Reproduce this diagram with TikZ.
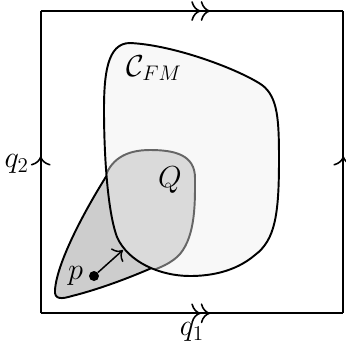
\documentclass[tikz,border=0pt]{standalone}
\usepackage{amsmath,amssymb}
\usetikzlibrary{arrows.meta,decorations.markings,positioning}
\definecolor{ink}{HTML}{000000}
\definecolor{cfmfill}{HTML}{F8F8F8}
\definecolor{qfill}{HTML}{DADADA}
\definecolor{setfill}{HTML}{CDCDCD}
\definecolor{qline}{HTML}{666666}
\tikzset{
  edge/.style={draw=ink, line width=1.1pt},
  singlemark/.style={edge, postaction={decorate}, decoration={markings, mark=at position 0.52 with {\arrow[line width=0.9pt]{To[scale=1.5]}}}},
  doublemark/.style={edge, postaction={decorate}, decoration={markings, mark=at position 0.56 with {\arrow[line width=0.9pt]{To[scale=1.5]To[scale=1.5]}}}},
  blob/.style={draw=ink, line width=1.1pt},
  qblob/.style={draw=qline, line width=1.1pt},
  label/.style={font=\LARGE, text=ink, inner sep=1pt},
  dot/.style={circle, fill=ink, inner sep=0pt, minimum size=2mm},
  arrow/.style={-{To[scale=1.4]}, draw=ink, line width=0.85pt}
}
\newcommand\cfmshape{(104,110) .. controls (104,75) and (107,43) .. (130,43) .. controls (175,45) and (240,70) .. (262,85) .. controls (278,97) and (279,120) .. (279,160) .. controls (279,215) and (275,240) .. (255,255) .. controls (235,272) and (210,276) .. (190,276) .. controls (160,276) and (128,262) .. (117,237) .. controls (107,210) and (104,150) .. (104,110) -- cycle}
\newcommand\qedge{(104,180) .. controls (110,160) and (125,150) .. (150,150) .. controls (175,150) and (195,155) .. (195,178) .. controls (195,200) and (196,235) .. (180,254) .. controls (172,263) and (160,268) .. (145,273)}

\begin{document}
\begin{tikzpicture}[x=0.02cm, y=-0.02cm]
\useasboundingbox (0,0) rectangle (346,343);
% torus square, opposite sides glued
\coordinate (sw) at (40.7,313.3);
\coordinate (se) at (343.3,313.3);
\coordinate (nw) at (40.7,11);
\coordinate (ne) at (343.3,11);
\draw[doublemark] (sw) -- (se);
\draw[doublemark] (nw) -- (ne);
\draw[singlemark] (sw) -- (nw);
\draw[singlemark] (se) -- (ne);
\node[label] (qone) at (192,332) {$q_1$};
\node[label, anchor=east] (qtwo) at (31,164) {$q_2$};
% sets
\filldraw[blob, fill=setfill] (118,158) .. controls (90,200) and (57,260) .. (55,290) .. controls (54,300) and (62,299) .. (72,296) .. controls (100,289) and (135,276) .. (165,262) -- (150,160) -- cycle;
\fill[cfmfill] \cfmshape;
\begin{scope}
\clip \cfmshape;
\fill[qfill] \qedge -- (140,290) -- (85,250) -- (85,170) -- cycle;
\draw[qblob] \qedge;
\end{scope}
\draw[blob] \cfmshape;
\node[label] (cfm) at (154,68) {$\mathcal{C}_{FM}$};
\node[label] (q) at (170,180) {$Q$};
% point and direction
\node[dot] (p) at (94,276) {};
\coordinate (ptip) at (123,250);
\node[label, left=2pt of p] (plabel) {$p$};
\draw[arrow] (p) -- (ptip);
\end{tikzpicture}
\end{document}
